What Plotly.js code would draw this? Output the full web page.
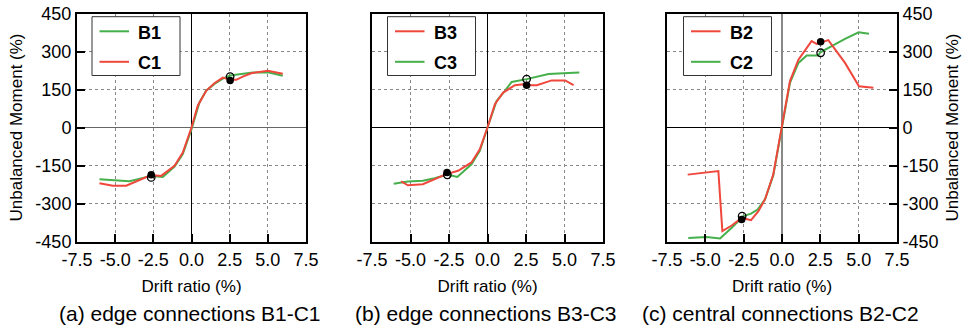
<!DOCTYPE html>
<html><head><meta charset="utf-8">
<script src="https://cdn.plot.ly/plotly-3.0.1.min.js"></script>
<style>html,body{margin:0;padding:0;background:#fff}#chart{width:964px;height:331px}</style>
</head><body><div id="chart"></div><script>
// ---- tick labels ----
const xTickVals = [-7.5, -5, -2.5, 0, 2.5, 5, 7.5];
const xTickText = ['-7.5', '-5.0', '-2.5', '0.0', '2.5', '5.0', '7.5'];
const yTickVals = [-450, -300, -150, 0, 150, 300, 450];
const yTickText = ['-450', '-300', '-150', '0', '150', '300', '450'];
const captions = ['(a) edge connections B1-C1', '(b) edge connections B3-C3', '(c) central connections B2-C2'];

// ---- panel (a) ----
const b1Drift  = [-6.03, -4.06, -2.64, -1.88, -1.11, -0.57, 0, 0.52, 0.96, 1.5, 2.05, 2.53, 3.14, 4.02, 5.0, 5.98];
const b1Moment = [-204, -212, -191, -195, -154, -105, -7, 99, 145, 172, 193, 205, 210, 217, 218, 204];
const c1Drift  = [-6.03, -5.15, -4.28, -3.41, -2.64, -1.99, -1.11, -0.57, 0, 0.41, 0.96, 1.5, 2.05, 2.53, 2.93, 3.36, 3.91, 5.0, 5.98];
const c1Moment = [-220, -230, -230, -207, -188, -191, -151, -99, 0, 86, 145, 175, 197, 188, 188, 201, 214, 224, 212];
const aFilledDrift = [-2.64, 2.53], aFilledMoment = [-187, 186];
const aOpenDrift   = [-2.64, 2.53], aOpenMoment   = [-197, 201];

// ---- panel (b) ----
const b3Drift  = [-5.61, -5.17, -4.2, -3.43, -2.67, -1.91, -1.04, -0.5, 0, 0.48, 1.02, 1.78, 2.33, 2.87, 3.2, 4.17, 5.04, 5.59];
const b3Moment = [-213, -228, -224, -204, -184, -171, -138, -86, 0, 92, 138, 167, 171, 167, 167, 186, 186, 167];
const c3Drift  = [-6.09, -5.17, -4.2, -3.43, -2.61, -1.96, -1.04, -0.5, 0, 0.59, 1.13, 1.57, 2.54, 3.96, 4.93, 5.96];
const c3Moment = [-222, -213, -210, -200, -186, -195, -145, -92, 0, 105, 145, 180, 191, 211, 214, 217];
const bFilledDrift = [-2.63, 2.54], bFilledMoment = [-178, 167];
const bOpenDrift   = [-2.61, 2.54], bOpenMoment   = [-187, 191];

// ---- panel (c) ----
const b2Drift  = [-6.15, -4.15, -3.89, -3.28, -2.63, -2.3, -2.02, -1.54, -1.11, -0.57, 0, 0.52, 1.07, 1.93, 2.26, 2.59, 3.02, 4.11, 5.02, 5.96];
const b2Moment = [-186, -172, -409, -387, -357, -363, -366, -330, -284, -186, 0, 183, 268, 341, 330, 337, 345, 255, 163, 157];
const c2Drift  = [-6.11, -4.91, -4.04, -3.28, -2.52, -2.02, -1.59, -1.11, -0.57, 0, 0.52, 1.07, 1.61, 2.37, 2.5, 3.24, 4.11, 5.0, 5.67];
const c2Moment = [-436, -432, -438, -396, -350, -340, -324, -284, -189, 0, 176, 255, 284, 284, 297, 321, 350, 376, 370];
const cFilledDrift = [-2.63, 2.52], cFilledMoment = [-363, 338];
const cOpenDrift   = [-2.6, 2.52],  cOpenMoment   = [-350, 295];

// legend entries per panel (top to bottom)
const legendNames = [['B1', 'C1'], ['B3', 'C3'], ['B2', 'C2']];

const GREEN = '#45b04b', RED = '#f0473c';
const legendColors = [[GREEN, RED], [RED, GREEN], [RED, GREEN]];
const W = 964, H = 331;
const FONT = 'Liberation Sans, Arial, sans-serif';

function line(x, y, color, name, xa, ya) {
  return {type: 'scatter', mode: 'lines', x: x, y: y, name: name, xaxis: xa, yaxis: ya,
    line: {color: color, width: 2}, showlegend: false, hoverinfo: 'skip'};
}
function marks(x, y, open, xa, ya) {
  return {type: 'scatter', mode: 'markers', x: x, y: y, xaxis: xa, yaxis: ya, showlegend: false,
    marker: open ? {symbol: 'circle-open', size: 7.5, color: '#000', line: {width: 1.3, color: '#000'}}
                 : {symbol: 'circle', size: 7.5, color: '#000'}, hoverinfo: 'skip'};
}

const traces = [
  line(b1Drift, b1Moment, GREEN, 'B1', 'x', 'y'),
  line(c1Drift, c1Moment, RED, 'C1', 'x', 'y'),
  marks(aOpenDrift, aOpenMoment, true, 'x', 'y'),
  marks(aFilledDrift, aFilledMoment, false, 'x', 'y'),
  line(c3Drift, c3Moment, GREEN, 'C3', 'x2', 'y2'),
  line(b3Drift, b3Moment, RED, 'B3', 'x2', 'y2'),
  marks(bOpenDrift, bOpenMoment, true, 'x2', 'y2'),
  marks(bFilledDrift, bFilledMoment, false, 'x2', 'y2'),
  line(c2Drift, c2Moment, GREEN, 'C2', 'x3', 'y3'),
  line(b2Drift, b2Moment, RED, 'B2', 'x3', 'y3'),
  marks(cOpenDrift, cOpenMoment, true, 'x3', 'y3'),
  marks(cFilledDrift, cFilledMoment, false, 'x3', 'y3'),
];

const panels = [[77, 306], [372, 603], [667, 897]];
const yDom = [1 - 241.5 / H, 1 - 13.5 / H];

function xax(i, zc) {
  return {domain: [panels[i][0] / W, panels[i][1] / W], anchor: i ? 'y' + (i + 1) : 'y',
    range: [-7.5, 7.5], tickvals: xTickVals, ticktext: xTickText,
    ticks: 'inside', ticklen: 8, tickwidth: 2, tickcolor: '#000',
    showline: true, linewidth: 2, linecolor: '#000', mirror: true,
    showgrid: true, gridcolor: '#888', griddash: 'dot', gridwidth: 1,
    zeroline: true, zerolinecolor: zc[0], zerolinewidth: zc[1],
    tickfont: {family: FONT, size: 18, color: '#000'}, ticklabelstandoff: 1,
    title: {text: 'Drift ratio (%)', font: {family: FONT, size: 17, color: '#000'}, standoff: 11},
    fixedrange: true};
}
function yax(i, zc, mode) {
  const a = {domain: yDom, anchor: i ? 'x' + (i + 1) : 'x',
    range: [-450, 450], tickvals: yTickVals, ticktext: yTickText,
    showline: true, linewidth: 2, linecolor: '#000', mirror: true,
    showgrid: true, gridcolor: '#888', griddash: 'dot', gridwidth: 1,
    zeroline: true, zerolinecolor: zc[0], zerolinewidth: zc[1],
    tickfont: {family: FONT, size: 18, color: '#000'}, fixedrange: true};
  if (mode === 'none') { a.ticks = ''; a.showticklabels = false; }
  else {
    a.ticks = 'inside'; a.ticklen = 8; a.tickwidth = 2; a.tickcolor = '#000';
    a.side = mode; a.ticklabelstandoff = 0;
    a.title = {text: 'Unbalanced Moment (%)', font: {family: FONT, size: 17, color: '#000'}, standoff: 8};
  }
  return a;
}

// legend boxes drawn as paper-referenced shapes + annotations
const legLeft = [92, 387.5, 683.5];
const legTop = 16.7, legBottom = 75.5, legWidth = 88;
const rowY = [31.3, 61.8];
const shapes = [], annotations = [];
legLeft.forEach((L, i) => {
  shapes.push({type: 'rect', xref: 'paper', yref: 'paper', layer: 'above',
    x0: L / W, x1: (L + legWidth) / W, y0: 1 - legTop / H, y1: 1 - legBottom / H,
    line: {color: '#333', width: 1}, fillcolor: '#fff'});
  legendNames[i].forEach((nm, r) => {
    shapes.push({type: 'line', xref: 'paper', yref: 'paper', layer: 'above',
      x0: (L + 7.5) / W, x1: (L + 37) / W, y0: 1 - rowY[r] / H, y1: 1 - rowY[r] / H,
      line: {color: legendColors[i][r], width: 2}});
    annotations.push({text: '<b>' + nm + '</b>', xref: 'paper', yref: 'paper', showarrow: false,
      x: (L + 44) / W, y: 1 - (rowY[r] + 1.2) / H, xanchor: 'left', yanchor: 'middle',
      font: {family: FONT, size: 18, color: '#000'}});
  });
});
captions.forEach((t, i) => annotations.push({text: t, xref: 'paper', yref: 'paper',
  x: ((panels[i][0] + panels[i][1]) / 2 - 2) / W, y: 1 - 313 / H, xanchor: 'center', yanchor: 'middle',
  showarrow: false, font: {family: FONT, size: 21, color: '#000'}}));

const layout = {
  width: W, height: H, margin: {l: 0, r: 0, t: 0, b: 0},
  paper_bgcolor: '#fff', plot_bgcolor: '#fff', showlegend: false,
  xaxis: xax(0, ['#000', 1]), yaxis: yax(0, ['#666', 1.2], 'left'),
  xaxis2: xax(1, ['#000', 1]), yaxis2: yax(1, ['#000', 1.2], 'none'),
  xaxis3: xax(2, ['#888', 2]), yaxis3: yax(2, ['#000', 1.2], 'right'),
  shapes: shapes, annotations: annotations
};

Plotly.newPlot('chart', traces, layout, {staticPlot: true, displayModeBar: false});
</script></body></html>
